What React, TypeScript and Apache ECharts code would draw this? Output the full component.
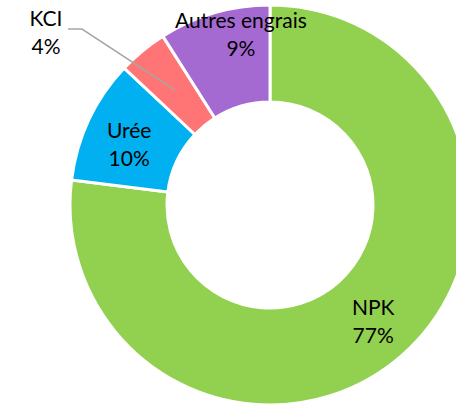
import React, { useEffect, useRef } from "react";
import * as echarts from "echarts";

const categories = ["NPK", "Urée", "KCI", "Autres engrais"];
const values = [77, 10, 4, 9];
const colors = ["#92D050", "#00B0F0", "#FF7575", "#A569D2"];

const CX = 270;
const CY = 205;
const R_IN = 103;
const R_OUT = 200;

const labelFont = {
  fontFamily: "Lato",
  fontSize: 21,
  lineHeight: 28,
  color: "#000000",
  align: "center" as const,
};

export default function App() {
  const ref = useRef<HTMLDivElement>(null);
  useEffect(() => {
    if (!ref.current) return;
    const chart = echarts.init(ref.current, undefined, { renderer: "svg" });
    const total = values.reduce((a, b) => a + b, 0);
    const midAnchor = (i: number) => {
      const before = values.slice(0, i).reduce((a, b) => a + b, 0);
      const frac = (before + values[i] / 2) / total;
      const ang = frac * 2 * Math.PI;
      const r = (R_IN + R_OUT) / 2 - 2;
      return [CX + r * Math.sin(ang), CY - r * Math.cos(ang)];
    };
    const mainData = categories.map((name, i) => {
      const item: any = { name, value: values[i], itemStyle: { color: colors[i] } };
      if (name === "KCI") item.label = { show: false };
      return item;
    });
    const overlayData = categories.map((name, i) => {
      const item: any = { name, value: values[i] };
      if (name === "KCI") {
        item.label = { show: true, position: "outside" };
        item.labelLine = {
          show: true,
          smooth: false,
          lineStyle: { color: "#A6A6A6", width: 1.5 },
        };
      }
      return item;
    });
    chart.setOption({
      animation: false,
      backgroundColor: "#ffffff",
      series: [
        {
          type: "pie",
          center: [CX, CY],
          radius: [R_IN, R_OUT],
          startAngle: 90,
          clockwise: true,
          avoidLabelOverlap: false,
          itemStyle: { borderColor: "#ffffff", borderWidth: 3 },
          label: {
            show: true,
            position: "inside",
            formatter: "{b}\n{c}%",
            ...labelFont,
          },
          labelLine: { show: false },
          labelLayout: (p: any) => {
            const name = categories[p.dataIndex];
            if (name === "Autres engrais") return { dx: 14, dy: -23 };
            if (name === "Urée") return { dx: -1, dy: 4 };
            if (name === "NPK") return { dx: 1, dy: 0 };
            return {};
          },
          data: mainData,
        },
        {
          type: "pie",
          z: 5,
          silent: true,
          center: [CX, CY],
          radius: [R_IN, R_OUT],
          startAngle: 90,
          clockwise: true,
          avoidLabelOverlap: false,
          itemStyle: { color: "rgba(0,0,0,0)", borderWidth: 0 },
          emphasis: { disabled: true },
          label: {
            show: false,
            formatter: "{b}\n{c}%",
            ...labelFont,
          },
          labelLine: { show: false },
          labelLayout: (p: any) => {
            if (categories[p.dataIndex] !== "KCI") return {};
            const a = midAnchor(p.dataIndex);
            return {
              x: 46,
              y: 31,
              align: "center",
              verticalAlign: "middle",
              labelLinePoints: [
                [68, 29],
                [82, 29],
                [a[0], a[1]],
              ],
            };
          },
          data: overlayData,
        },
      ],
    });
    return () => chart.dispose();
  }, []);
  return (
    <div
      ref={ref}
      style={{ position: "fixed", left: 0, top: 0, width: 456, height: 404 }}
    />
  );
}
